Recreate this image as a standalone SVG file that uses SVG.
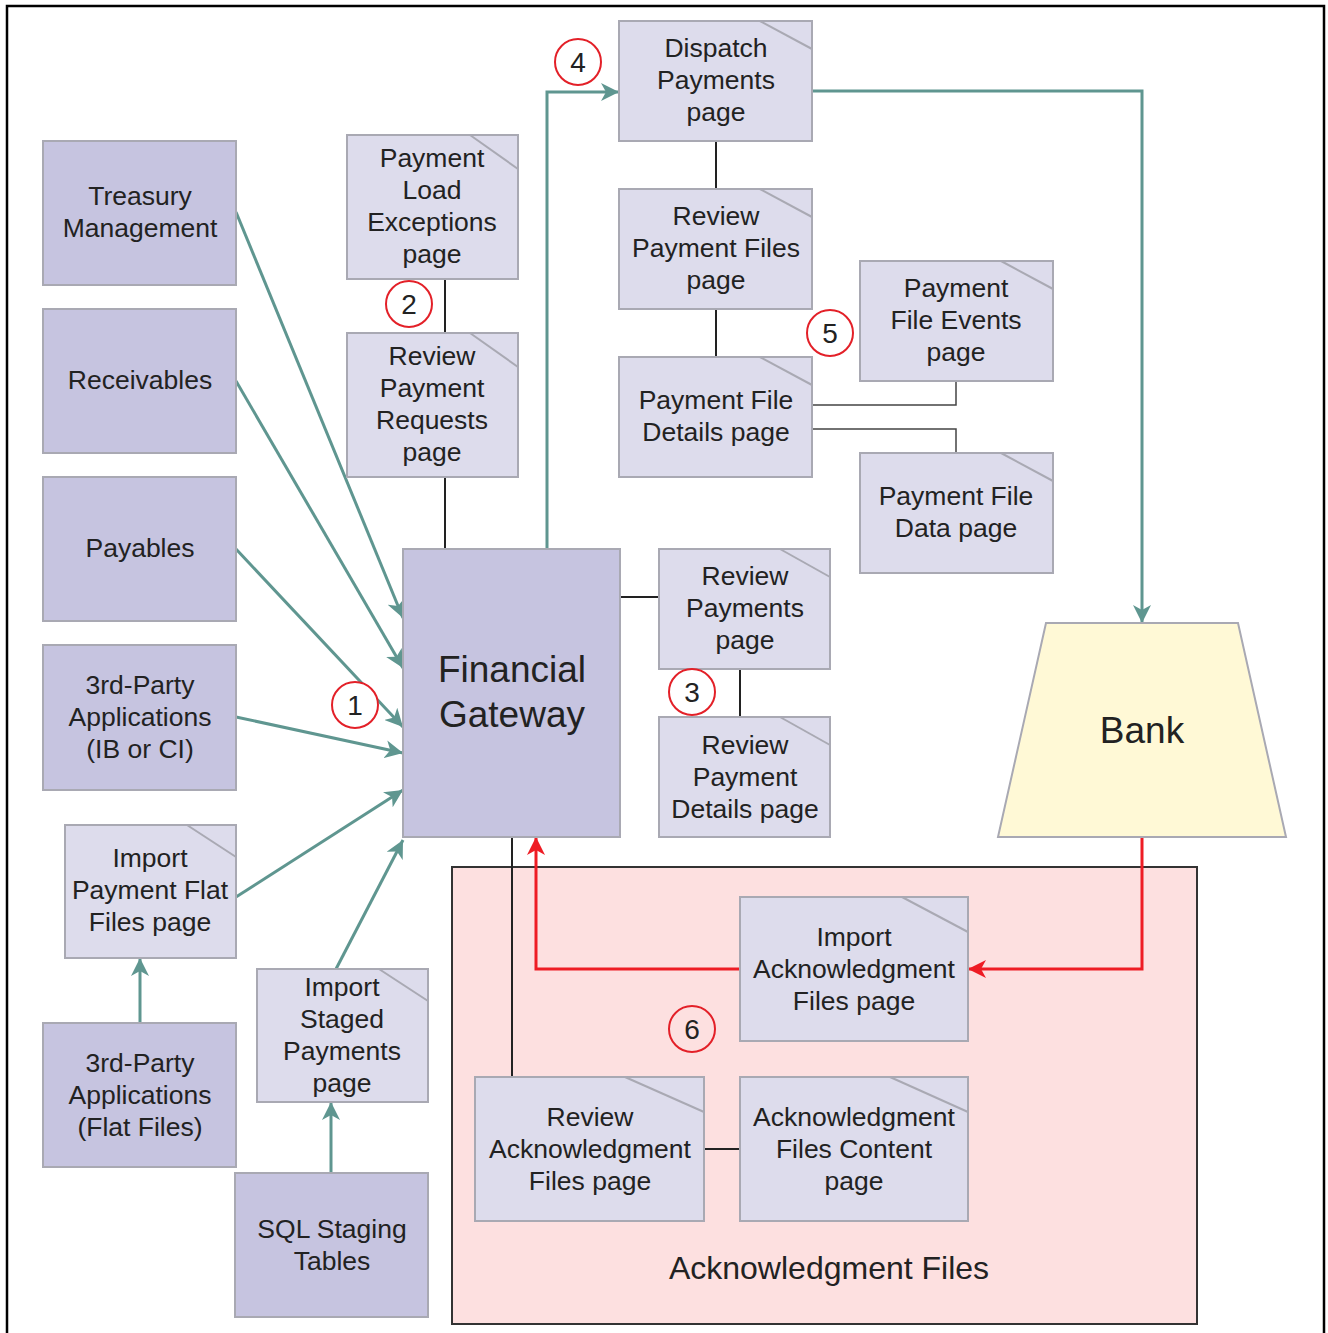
<svg xmlns="http://www.w3.org/2000/svg" width="1328" height="1333" viewBox="0 0 1328 1333">
<style>
.dark{fill:#c6c4e0;stroke:#a9a9b3;stroke-width:2}
.page{fill:#dddcec;stroke:#a9a9b3;stroke-width:2}
.fold{fill:none;stroke:#a9a9b3;stroke-width:2}
.t{font-family:"Liberation Sans",Arial,sans-serif;font-size:26.5px;fill:#222;text-anchor:middle}
.big{font-size:37px}
.teal{fill:none;stroke:#5f9690;stroke-width:3}
.red{fill:none;stroke:#ee1c24;stroke-width:3}
.blk{fill:none;stroke:#222;stroke-width:2}
.gry{fill:none;stroke:#444;stroke-width:1.5}
.num{fill:#fff;stroke:#e32028;stroke-width:2}
.nt{font-family:"Liberation Sans",Arial,sans-serif;font-size:28px;fill:#222;text-anchor:middle}
</style>
<defs>
<marker id="at" markerUnits="userSpaceOnUse" markerWidth="20" markerHeight="18" refX="18" refY="9" orient="auto"><path d="M0,0 L18,9 L0,18 L5,9 Z" fill="#5f9690"/></marker>
<marker id="ar" markerUnits="userSpaceOnUse" markerWidth="20" markerHeight="18" refX="18" refY="9" orient="auto"><path d="M0,0 L18,9 L0,18 L5,9 Z" fill="#ee1c24"/></marker>
</defs>
<rect x="7" y="6" width="1317" height="1345" fill="#fff" stroke="#000" stroke-width="2.5"/>

<g id="ack-files-group">
<rect x="452" y="867" width="745" height="457" fill="#fde0e0" stroke="#333" stroke-width="2"/>
<text class="t" x="829" y="1279" style="font-size:32px">Acknowledgment Files</text>
</g>

<g id="connectors">
<line class="blk" x1="445" y1="279" x2="445" y2="333"/>
<line class="blk" x1="445" y1="477" x2="445" y2="549"/>
<line class="blk" x1="716" y1="141" x2="716" y2="189"/>
<line class="blk" x1="716" y1="309" x2="716" y2="357"/>
<polyline class="gry" points="812,405 956,405 956,381"/>
<polyline class="gry" points="812,429 956,429 956,453"/>
<line class="blk" x1="620" y1="597" x2="659" y2="597"/>
<line class="blk" x1="740" y1="669" x2="740" y2="717"/>
<line class="blk" x1="512" y1="837" x2="512" y2="1077"/>
<line class="blk" x1="704" y1="1149" x2="740" y2="1149"/>
<line class="teal" x1="236" y1="212" x2="403" y2="618" marker-end="url(#at)"/>
<line class="teal" x1="236" y1="381" x2="403" y2="668" marker-end="url(#at)"/>
<line class="teal" x1="236" y1="549" x2="403" y2="727" marker-end="url(#at)"/>
<line class="teal" x1="236" y1="717" x2="403" y2="753" marker-end="url(#at)"/>
<line class="teal" x1="236" y1="897" x2="403" y2="790" marker-end="url(#at)"/>
<line class="teal" x1="336" y1="969" x2="403" y2="840" marker-end="url(#at)"/>
<line class="teal" x1="140" y1="1023" x2="140" y2="958" marker-end="url(#at)"/>
<line class="teal" x1="331" y1="1173" x2="331" y2="1102" marker-end="url(#at)"/>
<polyline class="teal" points="547,549 547,92 619,92" marker-end="url(#at)"/>
<polyline class="teal" points="812,91 1142,91 1142,623" marker-end="url(#at)"/>
<polyline class="red" points="1142,837 1142,969 968,969" marker-end="url(#ar)"/>
<polyline class="red" points="740,969 536,969 536,837" marker-end="url(#ar)"/>
</g>

<g id="treasury"><rect class="dark" x="43" y="141" width="193" height="144"/>
<text class="t" x="140" y="205">Treasury</text><text class="t" x="140" y="237">Management</text></g>
<g id="receivables"><rect class="dark" x="43" y="309" width="193" height="144"/>
<text class="t" x="140" y="389">Receivables</text></g>
<g id="payables"><rect class="dark" x="43" y="477" width="193" height="144"/>
<text class="t" x="140" y="557">Payables</text></g>
<g id="third-party-ib"><rect class="dark" x="43" y="645" width="193" height="145"/>
<text class="t" x="140" y="694">3rd-Party</text><text class="t" x="140" y="726">Applications</text><text class="t" x="140" y="758">(IB or CI)</text></g>
<g id="third-party-flat"><rect class="dark" x="43" y="1023" width="193" height="144"/>
<text class="t" x="140" y="1072">3rd-Party</text><text class="t" x="140" y="1104">Applications</text><text class="t" x="140" y="1136">(Flat Files)</text></g>
<g id="sql-staging"><rect class="dark" x="235" y="1173" width="193" height="144"/>
<text class="t" x="332" y="1238">SQL Staging</text><text class="t" x="332" y="1270">Tables</text></g>
<g id="financial-gateway"><rect class="dark" x="403" y="549" width="217" height="288"/>
<text class="t big" x="512" y="682">Financial</text><text class="t big" x="512" y="727">Gateway</text></g>

<g id="payment-load-exceptions"><rect class="page" x="347" y="135" width="171" height="144"/><line class="fold" x1="470" y1="135" x2="518" y2="169"/>
<text class="t" x="432" y="167">Payment</text><text class="t" x="432" y="199">Load</text><text class="t" x="432" y="231">Exceptions</text><text class="t" x="432" y="263">page</text></g>
<g id="review-payment-requests"><rect class="page" x="347" y="333" width="171" height="144"/><line class="fold" x1="470" y1="333" x2="518" y2="367"/>
<text class="t" x="432" y="365">Review</text><text class="t" x="432" y="397">Payment</text><text class="t" x="432" y="429">Requests</text><text class="t" x="432" y="461">page</text></g>
<g id="dispatch-payments"><rect class="page" x="619" y="21" width="193" height="120"/><line class="fold" x1="760" y1="21" x2="812" y2="49"/>
<text class="t" x="716" y="57">Dispatch</text><text class="t" x="716" y="89">Payments</text><text class="t" x="716" y="121">page</text></g>
<g id="review-payment-files"><rect class="page" x="619" y="189" width="193" height="120"/><line class="fold" x1="760" y1="189" x2="812" y2="217"/>
<text class="t" x="716" y="225">Review</text><text class="t" x="716" y="257">Payment Files</text><text class="t" x="716" y="289">page</text></g>
<g id="payment-file-details"><rect class="page" x="619" y="357" width="193" height="120"/><line class="fold" x1="760" y1="357" x2="812" y2="385"/>
<text class="t" x="716" y="409">Payment File</text><text class="t" x="716" y="441">Details page</text></g>
<g id="payment-file-events"><rect class="page" x="860" y="261" width="193" height="120"/><line class="fold" x1="1001" y1="261" x2="1053" y2="289"/>
<text class="t" x="956" y="297">Payment</text><text class="t" x="956" y="329">File Events</text><text class="t" x="956" y="361">page</text></g>
<g id="payment-file-data"><rect class="page" x="860" y="453" width="193" height="120"/><line class="fold" x1="1001" y1="453" x2="1053" y2="481"/>
<text class="t" x="956" y="505">Payment File</text><text class="t" x="956" y="537">Data page</text></g>
<g id="review-payments"><rect class="page" x="659" y="549" width="171" height="120"/><line class="fold" x1="780" y1="549" x2="830" y2="577"/>
<text class="t" x="745" y="585">Review</text><text class="t" x="745" y="617">Payments</text><text class="t" x="745" y="649">page</text></g>
<g id="review-payment-details"><rect class="page" x="659" y="717" width="171" height="120"/><line class="fold" x1="780" y1="717" x2="830" y2="745"/>
<text class="t" x="745" y="754">Review</text><text class="t" x="745" y="786">Payment</text><text class="t" x="745" y="818">Details page</text></g>
<g id="import-payment-flat-files"><rect class="page" x="65" y="825" width="171" height="133"/><line class="fold" x1="187" y1="825" x2="236" y2="857"/>
<text class="t" x="150" y="867">Import</text><text class="t" x="150" y="899">Payment Flat</text><text class="t" x="150" y="931">Files page</text></g>
<g id="import-staged-payments"><rect class="page" x="257" y="969" width="171" height="133"/><line class="fold" x1="379" y1="969" x2="428" y2="1001"/>
<text class="t" x="342" y="996">Import</text><text class="t" x="342" y="1028">Staged</text><text class="t" x="342" y="1060">Payments</text><text class="t" x="342" y="1092">page</text></g>
<g id="import-ack-files"><rect class="page" x="740" y="897" width="228" height="144"/><line class="fold" x1="902" y1="897" x2="968" y2="932"/>
<text class="t" x="854" y="946">Import</text><text class="t" x="854" y="978">Acknowledgment</text><text class="t" x="854" y="1010">Files page</text></g>
<g id="review-ack-files"><rect class="page" x="475" y="1077" width="229" height="144"/><line class="fold" x1="625" y1="1077" x2="704" y2="1112"/>
<text class="t" x="590" y="1126">Review</text><text class="t" x="590" y="1158">Acknowledgment</text><text class="t" x="590" y="1190">Files page</text></g>
<g id="ack-files-content"><rect class="page" x="740" y="1077" width="228" height="144"/><line class="fold" x1="890" y1="1077" x2="968" y2="1112"/>
<text class="t" x="854" y="1126">Acknowledgment</text><text class="t" x="854" y="1158">Files Content</text><text class="t" x="854" y="1190">page</text></g>

<g id="bank"><polygon points="1046,623 1238,623 1286,837 998,837" fill="#fff9d6" stroke="#a9a9b3" stroke-width="2"/>
<text class="t big" x="1142" y="743">Bank</text></g>

<g id="step-1"><circle class="num" cx="355" cy="705" r="23"/><text class="nt" x="355" y="715">1</text></g>
<g id="step-2"><circle class="num" cx="409" cy="304" r="23"/><text class="nt" x="409" y="314">2</text></g>
<g id="step-3"><circle class="num" cx="692" cy="692" r="23"/><text class="nt" x="692" y="702">3</text></g>
<g id="step-4"><circle class="num" cx="578" cy="62" r="23"/><text class="nt" x="578" y="72">4</text></g>
<g id="step-5"><circle class="num" cx="830" cy="333" r="23"/><text class="nt" x="830" y="343">5</text></g>
<g id="step-6"><circle class="num" cx="692" cy="1029" r="23" style="fill:none"/><text class="nt" x="692" y="1039">6</text></g>
</svg>
